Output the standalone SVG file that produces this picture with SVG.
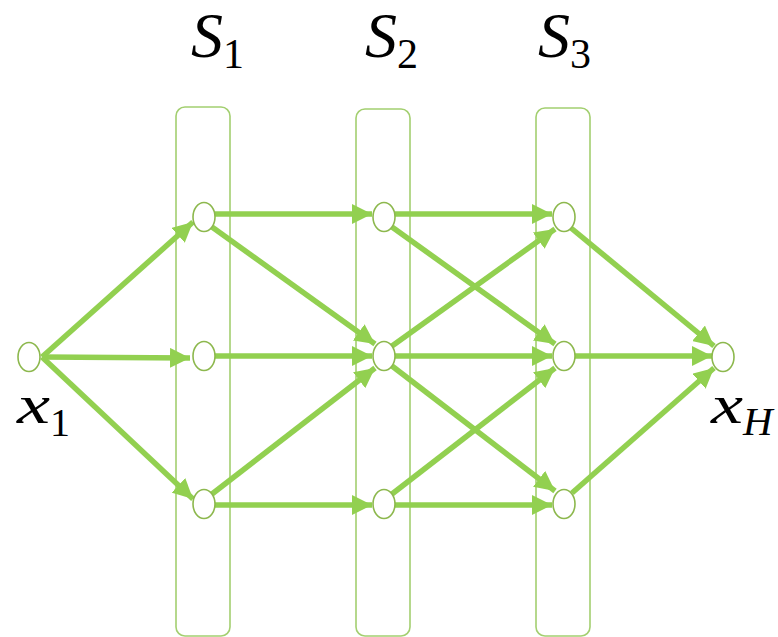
<svg xmlns="http://www.w3.org/2000/svg" width="778" height="637" viewBox="0 0 778 637">
  <style>
    .stage { fill: none; stroke: #A3CF70; stroke-width: 1.6; }
    .node ellipse { fill: #FFFFFF; stroke: #8DB84E; stroke-width: 1.6; }
    .edge { stroke: #92D050; stroke-width: 5.5; fill: none; marker-end: url(#head); }
    .math { font-family: "Liberation Serif", "Times New Roman", serif; fill: #000000; }
    .it { font-style: italic; }
  </style>
  <defs>
    <marker id="head" markerUnits="userSpaceOnUse" markerWidth="21" markerHeight="20" viewBox="0 0 21 20" refX="20" refY="10" orient="auto">
      <path d="M0,0 L20,10 L0,20 Z" fill="#92D050"/>
    </marker>
  </defs>

  <!-- stage containers -->
  <g id="stages">
    <rect class="stage" x="176" y="107" width="54" height="529" rx="9"/>
    <rect class="stage" x="356" y="109" width="54" height="527" rx="9"/>
    <rect class="stage" x="536" y="108" width="54" height="528" rx="9"/>
  </g>

  <!-- stage labels -->
  <g id="labels">
    <text class="math" x="191" y="57"><tspan class="it" font-size="64">S</tspan><tspan font-size="42" dy="11">1</tspan></text>
    <text class="math" x="365" y="57"><tspan class="it" font-size="64">S</tspan><tspan font-size="42" dy="11">2</tspan></text>
    <text class="math" x="538" y="57"><tspan class="it" font-size="64">S</tspan><tspan font-size="42" dy="11">3</tspan></text>
  </g>

  <!-- connectors -->
  <g id="edges">
    <line class="edge" x1="42" y1="357" x2="193" y2="222"/>
    <line class="edge" x1="42" y1="357" x2="190" y2="358"/>
    <line class="edge" x1="42" y1="357" x2="193" y2="499"/>

    <line class="edge" x1="215" y1="214" x2="372" y2="214"/>
    <line class="edge" x1="212" y1="227" x2="375" y2="344"/>
    <line class="edge" x1="215" y1="356" x2="372" y2="356"/>
    <line class="edge" x1="212" y1="494" x2="375" y2="368"/>
    <line class="edge" x1="215" y1="505" x2="372" y2="505"/>

    <line class="edge" x1="395" y1="214" x2="552" y2="214"/>
    <line class="edge" x1="392" y1="227" x2="555" y2="344"/>
    <line class="edge" x1="392" y1="346" x2="555" y2="229"/>
    <line class="edge" x1="395" y1="356" x2="552" y2="356"/>
    <line class="edge" x1="392" y1="366" x2="555" y2="491"/>
    <line class="edge" x1="392" y1="494" x2="555" y2="368"/>
    <line class="edge" x1="395" y1="505" x2="552" y2="505"/>

    <line class="edge" x1="571" y1="228" x2="714" y2="346"/>
    <line class="edge" x1="575" y1="356" x2="712" y2="356"/>
    <line class="edge" x1="572" y1="493" x2="714" y2="368"/>
  </g>

  <!-- nodes -->
  <g id="x1" class="node"><ellipse cx="29" cy="357" rx="11" ry="14.5"/></g>
  <g id="s1a" class="node"><ellipse cx="204" cy="217" rx="11" ry="14.5"/></g>
  <g id="s1b" class="node"><ellipse cx="204" cy="356" rx="11" ry="14.5"/></g>
  <g id="s1c" class="node"><ellipse cx="204" cy="504" rx="11" ry="14.5"/></g>
  <g id="s2a" class="node"><ellipse cx="384" cy="217" rx="11" ry="14.5"/></g>
  <g id="s2b" class="node"><ellipse cx="384" cy="356" rx="11" ry="14.5"/></g>
  <g id="s2c" class="node"><ellipse cx="384" cy="504" rx="11" ry="14.5"/></g>
  <g id="s3a" class="node"><ellipse cx="564" cy="217" rx="11" ry="14.5"/></g>
  <g id="s3b" class="node"><ellipse cx="564" cy="356" rx="11" ry="14.5"/></g>
  <g id="s3c" class="node"><ellipse cx="564" cy="504" rx="11" ry="14.5"/></g>
  <g id="xH" class="node"><ellipse cx="723" cy="357" rx="11" ry="14.5"/></g>

  <!-- endpoint labels -->
  <g id="endpoint-labels">
    <text class="math" x="17" y="423"><tspan class="it" font-size="54" textLength="33" lengthAdjust="spacingAndGlyphs">x</tspan><tspan font-size="40" x="50" dy="13">1</tspan></text>
    <text class="math" x="711" y="423"><tspan class="it" font-size="54" textLength="32" lengthAdjust="spacingAndGlyphs">x</tspan><tspan class="it" font-size="41" x="743" dy="12">H</tspan></text>
  </g>
</svg>
